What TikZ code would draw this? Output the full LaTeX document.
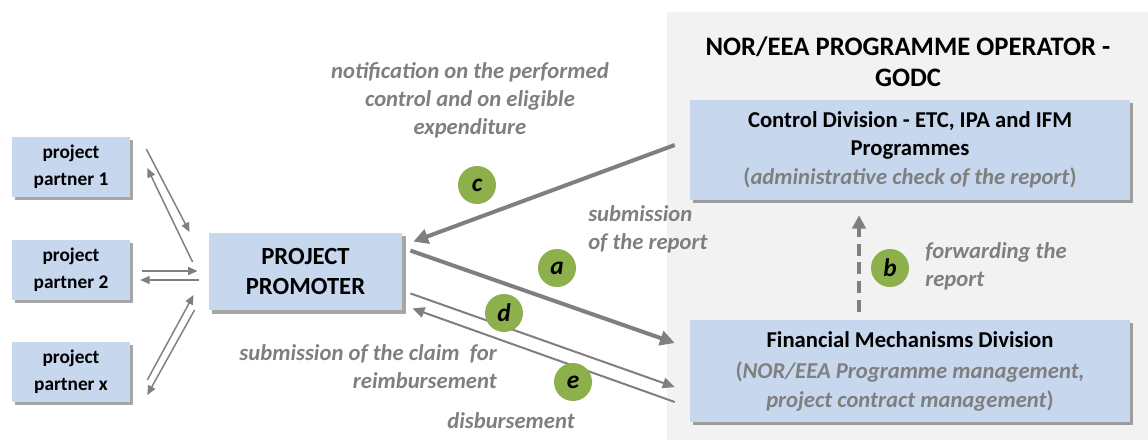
\documentclass[tikz,border=0pt]{standalone}
\usepackage{fontspec}
\setmainfont{Carlito}
\usetikzlibrary{arrows.meta}
\usetikzlibrary{shadows}
\definecolor{panelgray}{HTML}{F2F2F2}
\definecolor{boxblue}{HTML}{C6D7EE}
\definecolor{markgreen}{HTML}{8DB04C}
\definecolor{notegray}{HTML}{7F7F7F}
\definecolor{arrowgray}{HTML}{7F7F7F}
\tikzset{
  bluebox/.style={fill=boxblue, align=center, inner sep=0pt, font=\bfseries,
    drop shadow={shadow xshift=2.5pt, shadow yshift=-2.5pt, fill=black, opacity=.35}},
  lettercirc/.style={circle, fill=markgreen, minimum size=28.5pt, inner sep=0pt,
    font=\fontsize{19}{19}\selectfont\bfseries\itshape},
  note/.style={text=notegray, inner sep=0pt, font=\fontsize{17}{21}\selectfont\bfseries\itshape},
  thinarrow/.style={arrowgray, line width=1.1pt, -{Triangle[length=7pt, width=6pt]}},
  midarrow/.style={arrowgray, line width=1.5pt, -{Triangle[length=9pt, width=8pt]}},
  thickarrow/.style={arrowgray, line width=3pt, -{Triangle[length=11pt, width=11pt]}}
}
\begin{document}
\begin{tikzpicture}[x=0.75pt, y=-0.75pt]
\useasboundingbox (0,0) rectangle (1148,440);
\fill[panelgray] (667,12) rectangle (1148,440);

\node[font=\fontsize{20}{23}\selectfont\bfseries, align=center] (title) at (908,62)
  {NOR/EEA PROGRAMME OPERATOR -\\GODC};

\node[bluebox, minimum width=88.5pt, minimum height=45pt, font=\fontsize{14.5}{20}\selectfont\bfseries] (pp1) at (71,167) {project\\partner 1};
\node[bluebox, minimum width=88.5pt, minimum height=45pt, font=\fontsize{14.5}{20}\selectfont\bfseries] (pp2) at (71,270) {project\\partner 2};
\node[bluebox, minimum width=88.5pt, minimum height=45pt, font=\fontsize{14.5}{20}\selectfont\bfseries] (ppx) at (71,372) {project\\partner x};
\node[bluebox, minimum width=145pt, minimum height=58pt, font=\fontsize{18.5}{22.5}\selectfont\bfseries] (prom) at (305.5,271.5) {PROJECT\\PROMOTER};
\node[bluebox, minimum width=330pt, minimum height=75pt, font=\fontsize{17}{21}\selectfont\bfseries] (ctrl) at (910,150)
  {Control Division - ETC, IPA and IFM\\Programmes\\[1pt]
   {\color{notegray}(\textit{administrative check of the report})}};
\node[bluebox, minimum width=330pt, minimum height=76.5pt, font=\fontsize{17}{21.5}\selectfont\bfseries] (fmd) at (910,371)
  {Financial Mechanisms Division\\[2pt]
   {\color{notegray}(\textit{NOR/EEA Programme management,}}\\
   {\color{notegray}\textit{project contract management})}};

% partners <-> promoter
\draw[thinarrow] ([shift={(16,-18)}]pp1.east) -- ([shift={(-19,-39.5)}]prom.west);
\draw[thinarrow] ([shift={(-16,-9.5)}]prom.west) -- ([shift={(17,1)}]pp1.east);
\draw[thinarrow] ([shift={(12,1)}]pp2.east) -- ([shift={(-11,-0.5)}]prom.west);
\draw[thinarrow] ([shift={(-10,8.5)}]prom.west) -- ([shift={(10,10)}]pp2.east);
\draw[thinarrow] ([shift={(17,8)}]ppx.east) -- ([shift={(-15,23.5)}]prom.west);
\draw[thinarrow] ([shift={(-14,38.5)}]prom.west) -- ([shift={(17,23)}]ppx.east);

% promoter <-> programme operator
\draw[thickarrow] ([shift={(-15,-5)}]ctrl.west) -- ([shift={(11,9)}]prom.north east);
\draw[thickarrow] ([shift={(8,18)}]prom.north east) -- ([shift={(-15,-28)}]fmd.west);
\draw[midarrow] ([shift={(8,-17)}]prom.south east) -- ([shift={(-15,16)}]fmd.west);
\draw[midarrow] ([shift={(-15,31)}]fmd.west) -- ([shift={(10,-2)}]prom.south east);
\draw[arrowgray, line width=3pt, dash pattern=on 9pt off 5pt, -{Triangle[length=10pt, width=10pt]}]
  ([shift={(-51,-8)}]fmd.north) -- ([shift={(-51,15)}]ctrl.south);

\node[lettercirc] (ca) at (557,268) {a};
\node[lettercirc] (cb) at (890,268) {b};
\node[lettercirc] (cc) at (477,185) {c};
\node[lettercirc] (cd) at (504,313) {d};
\node[lettercirc] (ce) at (573,382) {e};

\node[note, align=center] (notif) at (470,100) {notification on the performed\\control and on eligible\\expenditure};
\node[note, align=left, anchor=west] (subrep) at (588,229.5) {submission\\of the report};
\node[note, align=left, anchor=west] (fwd) at (925,266.5) {forwarding the\\report};
\node[note, align=right, anchor=east] (claim) at (497,366.5) {submission of the claim\ \ for\\reimbursement};
\node[note] (disb) at (511,421) {disbursement};
\end{tikzpicture}
\end{document}
